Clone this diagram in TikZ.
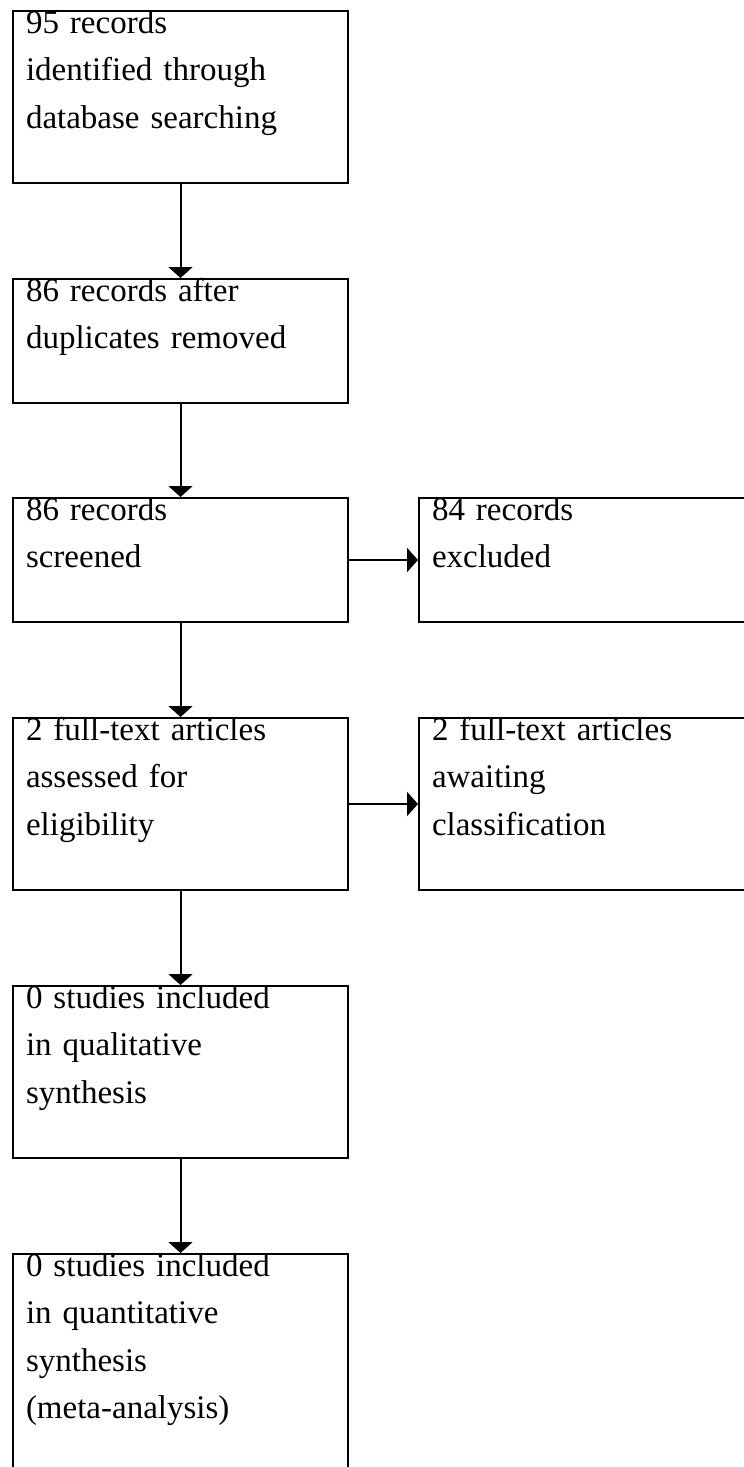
\documentclass[tikz,border=0pt]{standalone}
\usepackage{fontspec}
\setmainfont{Liberation Serif}
\usepackage{tikz}
\usetikzlibrary{arrows.meta}

\tikzset{
  box/.style={draw, line width=2pt, anchor=north west, inner xsep=13pt, inner ysep=0pt,
    text width=309pt, align=left, text height=22pt,
    font=\fontsize{33pt}{47.5pt}\selectfont},
  tallbox/.style={box, text depth=150pt},
  shortbox/.style={box, text depth=102pt},
  flow/.style={line width=2pt, -{Triangle[width=24pt,length=11pt]}}
}

\begin{document}
\begin{tikzpicture}[x=1pt, y=-1pt]
    \useasboundingbox (0,0) rectangle (744,1467);
    \clip (0,0) rectangle (744,1467);
    % left column
    \node[tallbox] (ident) at (12,10) {95 records\\ identified through\\ database searching};
    \node[shortbox] (dedup) at (12,278) {86 records after\\ duplicates removed};
    \node[shortbox] (screen) at (12,497) {86 records\\ screened};
    \node[tallbox] (fulltext) at (12,717) {2 full-text articles\\ assessed for\\ eligibility};
    \node[tallbox] (qual) at (12,985) {0 studies included\\ in qualitative\\ synthesis};
    \node[box, text depth=198pt] (quant) at (12,1253) {0 studies included\\ in quantitative\\ synthesis\\ (meta-analysis)};
    % right column
    \node[shortbox] (excl) at (418,497) {84 records\\ excluded};
    \node[tallbox] (await) at (418,717) {2 full-text articles\\ awaiting\\ classification};
    % arrows
    \draw[flow] (ident) -- (dedup);
    \draw[flow] (dedup) -- (screen);
    \draw[flow] (screen) -- (fulltext);
    \draw[flow] (fulltext) -- (qual);
    \draw[flow] (qual) -- (quant);
    \draw[flow] (screen) -- (excl);
    \draw[flow] (fulltext) -- (await);
\end{tikzpicture}
\end{document}
